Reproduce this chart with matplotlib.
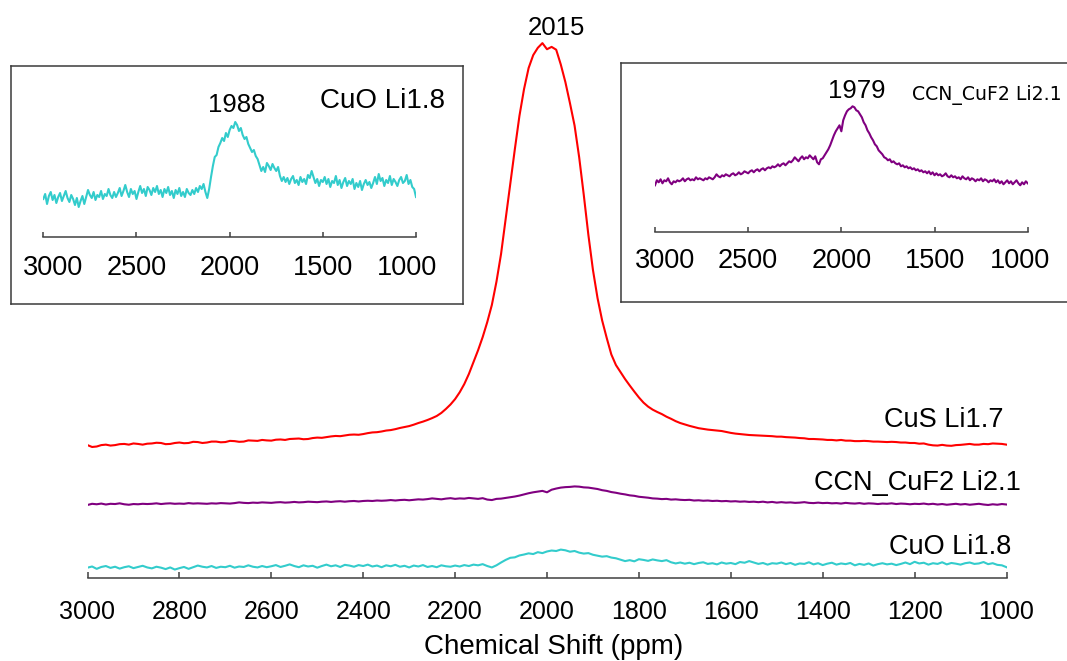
import numpy as np
import matplotlib
matplotlib.use("Agg")
import matplotlib.pyplot as plt
from matplotlib.transforms import ScaledTranslation

plt.rcParams["font.family"] = ["Liberation Sans", "DejaVu Sans"]

# 7Li NMR spectra, chemical shift axis in ppm (10 ppm steps, 3000 -> 1000)
shift_ppm = np.arange(3000, 999, -10)

# intensities (arbitrary units, common scale)
cus_li17 = [
    4, -4, -2, 4, 6, 2, 4, 8, 9, 6,
    11, 9, 6, 10, 11, 14, 13, 8, 9, 13,
    15, 12, 13, 18, 17, 13, 15, 19, 19, 16,
    17, 22, 21, 18, 19, 24, 23, 22, 26, 24,
    23, 27, 28, 26, 30, 31, 32, 29, 30, 34,
    36, 35, 38, 41, 43, 42, 45, 48, 49, 48,
    51, 55, 58, 59, 62, 66, 68, 72, 77, 81,
    85, 91, 98, 104, 111, 119, 128, 141, 158, 177,
    200, 229, 264, 307, 358, 408, 464, 528, 601, 700,
    818, 966, 1116, 1264, 1406, 1520, 1610, 1665, 1696, 1716,
    1690, 1700, 1688, 1625, 1550, 1460, 1365, 1230, 1070, 900,
    750, 630, 535, 460, 390, 345, 315, 285, 258, 232,
    207, 185, 168, 155, 145, 136, 125, 116, 106, 98,
    92, 86, 81, 76, 73, 70, 68, 66, 64, 60,
    56, 53, 51, 49, 47, 46, 45, 44, 43, 42,
    40, 40, 38, 37, 36, 34, 33, 30, 30, 29,
    28, 26, 26, 24, 26, 23, 23, 21, 21, 22,
    21, 19, 19, 18, 17, 18, 17, 15, 15, 13,
    13, 10, 11, 6, 3, 2, 5, 2, 1, 4,
    5, 7, 9, 6, 6, 9, 8, 11, 10, 9,
    6,
]

ccn_cuf2_li21 = [
    -2, 3, 1, 4, 0, 3, 2, 5, 1, -1,
    2, 1, 3, 2, 3, 5, 2, 4, 5, 3,
    4, 3, 6, 4, 5, 4, 3, 5, 4, 6,
    5, 4, 6, 9, 7, 6, 8, 7, 9, 8,
    7, 9, 10, 8, 9, 11, 9, 10, 12, 11,
    10, 12, 13, 11, 13, 14, 12, 14, 15, 13,
    15, 16, 15, 17, 16, 17, 19, 17, 19, 20,
    18, 20, 22, 21, 23, 26, 24, 22, 25, 27,
    24, 26, 25, 28, 26, 24, 27, 21, 19, 24,
    25, 28, 31, 34, 38, 43, 48, 52, 55, 58,
    52, 63, 68, 72, 74, 75, 77, 76, 73, 72,
    69, 66, 61, 58, 53, 50, 46, 43, 39, 37,
    33, 31, 29, 26, 25, 23, 24, 21, 22, 20,
    19, 20, 17, 18, 16, 17, 15, 16, 14, 15,
    13, 14, 12, 13, 11, 12, 10, 12, 9, 11,
    8, 10, 8, 9, 7, 8, 10, 7, 6, 8,
    6, 7, 5, 6, 4, 7, 5, 4, 6, 3,
    5, 4, 2, 4, 3, 5, 2, 4, 3, 1,
    3, 2, 4, 1, 3, 0, 2, -1, 1, 3,
    0, 2, -1, 1, 3, 0, -2, 1, -1, 2,
    0,
]

cuo_li18 = [
    2, 7, -3, 5, 9, 1, 6, -2, 4, 8,
    0, 5, 10, 3, -1, 6, 2, -4, 3, -6,
    0, 5, -3, 4, 11, 6, 3, 9, 1, 6,
    4, 10, 2, 7, 5, 12, 6, 3, 9, 4,
    8, 13, 5, 10, 16, 9, 4, 12, 7, 10,
    2, 9, 15, 8, 12, 5, 14, 11, 6, 13,
    9, 15, 7, 11, 4, 12, 8, 14, 6, 10,
    3, 11, 7, 13, 5, 9, 4, 12, 8, 6,
    11, 7, 13, 9, 15, 12, 17, 9, 3, 12,
    24, 35, 44, 46, 54, 58, 63, 60, 68, 64,
    71, 75, 73, 79, 76, 70, 73, 66, 62, 64,
    57, 53, 49, 51, 45, 42, 36, 30, 34, 29,
    38, 35, 31, 37, 33, 30, 34, 25, 20, 24,
    19, 23, 17, 22, 25, 18, 21, 16, 24, 19,
    22, 17, 26, 23, 30, 24, 18, 22, 15, 21,
    19, 24, 17, 22, 14, 20, 18, 25, 16, 21,
    13, 19, 23, 15, 20, 17, 22, 12, 18, 14,
    20, 11, 17, 21, 16, 19, 13, 18, 24, 17,
    27, 20, 23, 15, 21, 18, 25, 16, 22, 19,
    15, 21, 24, 18, 20, 26, 17, 21, 14, 12,
    4,
]

main_ticks = [3000, 2800, 2600, 2400, 2200, 2000, 1800, 1600, 1400, 1200, 1000]
inset_ticks = [3000, 2500, 2000, 1500, 1000]
series_labels = ["CuS Li1.7", "CCN_CuF2 Li2.1", "CuO Li1.8"]
peak_labels = ["2015", "1979", "1988"]

colors = {"CuS": "#ff0000", "CCN": "#800080", "CuO": "#33cccc"}
axis_grey = "#404040"

# ---------------------------------------------------------------- layout
W, H = 1067, 661
fig = plt.figure(figsize=(W / 100, H / 100), dpi=100)


def rect(x0, y0, x1, y1):
    """Axes rectangle from pixel box (origin top-left)."""
    return [x0 / W, 1 - y1 / H, (x1 - x0) / W, (y1 - y0) / H]


def fxy(x, y):
    return x / W, 1 - y / H


def style_axis(ax, labelsize, pad, ticklen):
    for s in ("left", "right", "top"):
        ax.spines[s].set_visible(False)
    ax.spines["bottom"].set_color(axis_grey)
    ax.spines["bottom"].set_linewidth(1.1)
    ax.set_yticks([])
    ax.tick_params(axis="x", direction="in", length=ticklen, width=1.1,
                   color=axis_grey, labelsize=labelsize, pad=pad,
                   labelcolor="black")
    ax.patch.set_alpha(0)


def nudge_end_labels(ax, first_px, last_px):
    """Pull the outermost tick labels inwards a little."""
    labels = ax.get_xticklabels()
    for lab, dx in ((labels[0], first_px), (labels[-1], last_px)):
        lab.set_transform(lab.get_transform()
                          + ScaledTranslation(dx / 100, 0, fig.dpi_scale_trans))


# ---------------------------------------------------------------- main plot
ax = fig.add_axes(rect(87.5, 20, 1006.5, 578))
ax.set_zorder(0)
offsets = [0, -249, -520]
for vals, off, key in zip([cus_li17, ccn_cuf2_li21, cuo_li18], offsets,
                          ["CuS", "CCN", "CuO"]):
    ax.plot(shift_ppm, np.asarray(vals) + off, color=colors[key], lw=1.5,
            solid_joinstyle="round")
ax.set_xlim(3000, 1000)
ax.set_ylim(-562, 1814.5)
ax.set_xticks(main_ticks)
ax.set_xticklabels([str(t) for t in main_ticks])
style_axis(ax, 18, 15.5, 4)
ax.set_xlabel("Chemical Shift (ppm)", fontsize=20, labelpad=7.5)
ax.xaxis.label.set_x(0.507)

ax.text(1980, 1751, peak_labels[0], ha="center", va="baseline", fontsize=18.5)
for label, (x, y) in zip(series_labels, [(1003, 427), (1021, 490), (1011.5, 554)]):
    fig.text(*fxy(x, y), label, ha="right", va="baseline", fontsize=19.5)

# ---------------------------------------------------------------- insets
def inset_box(x0, y0, x1, y1):
    b = fig.add_axes(rect(x0, y0, x1, y1))
    b.set_zorder(1)
    b.set_xticks([])
    b.set_yticks([])
    for s in b.spines.values():
        s.set_color("#3a3a3a")
        s.set_linewidth(1.1)
    return b


inset_box(10.5, 65.5, 463, 304)
ax1 = fig.add_axes(rect(43.3, 66, 416, 236.7))
ax1.set_zorder(2)
ax1.plot(shift_ppm, cuo_li18, color=colors["CuO"], lw=1.5)
ax1.set_xlim(3000, 1000)
ax1.set_ylim(-35.7, 135)
ax1.set_xticks(inset_ticks)
style_axis(ax1, 19.5, 13.2, 3.5)
nudge_end_labels(ax1, 10, -8.5)
fig.text(*fxy(236.7, 112), peak_labels[2], ha="center", va="baseline", fontsize=18.5)
fig.text(*fxy(445, 108.3), series_labels[2], ha="right", va="baseline", fontsize=20)

inset_box(620.7, 63.3, 1085, 301.7)
ax2 = fig.add_axes(rect(655, 64, 1027.7, 231.7))
ax2.set_zorder(2)
ax2.plot(shift_ppm, ccn_cuf2_li21, color=colors["CCN"], lw=1.5)
ax2.set_xlim(3000, 1000)
ax2.set_ylim(-48.4, 119.3)
ax2.set_xticks(inset_ticks)
style_axis(ax2, 19.5, 12, 3.5)
nudge_end_labels(ax2, 10, -8)
fig.text(*fxy(856.7, 98.3), peak_labels[1], ha="center", va="baseline", fontsize=18.5)
fig.text(*fxy(911.7, 100), series_labels[1], ha="left", va="baseline",
         fontsize=13.6, family=["DejaVu Sans"])

fig.savefig("out.png", dpi=100)
